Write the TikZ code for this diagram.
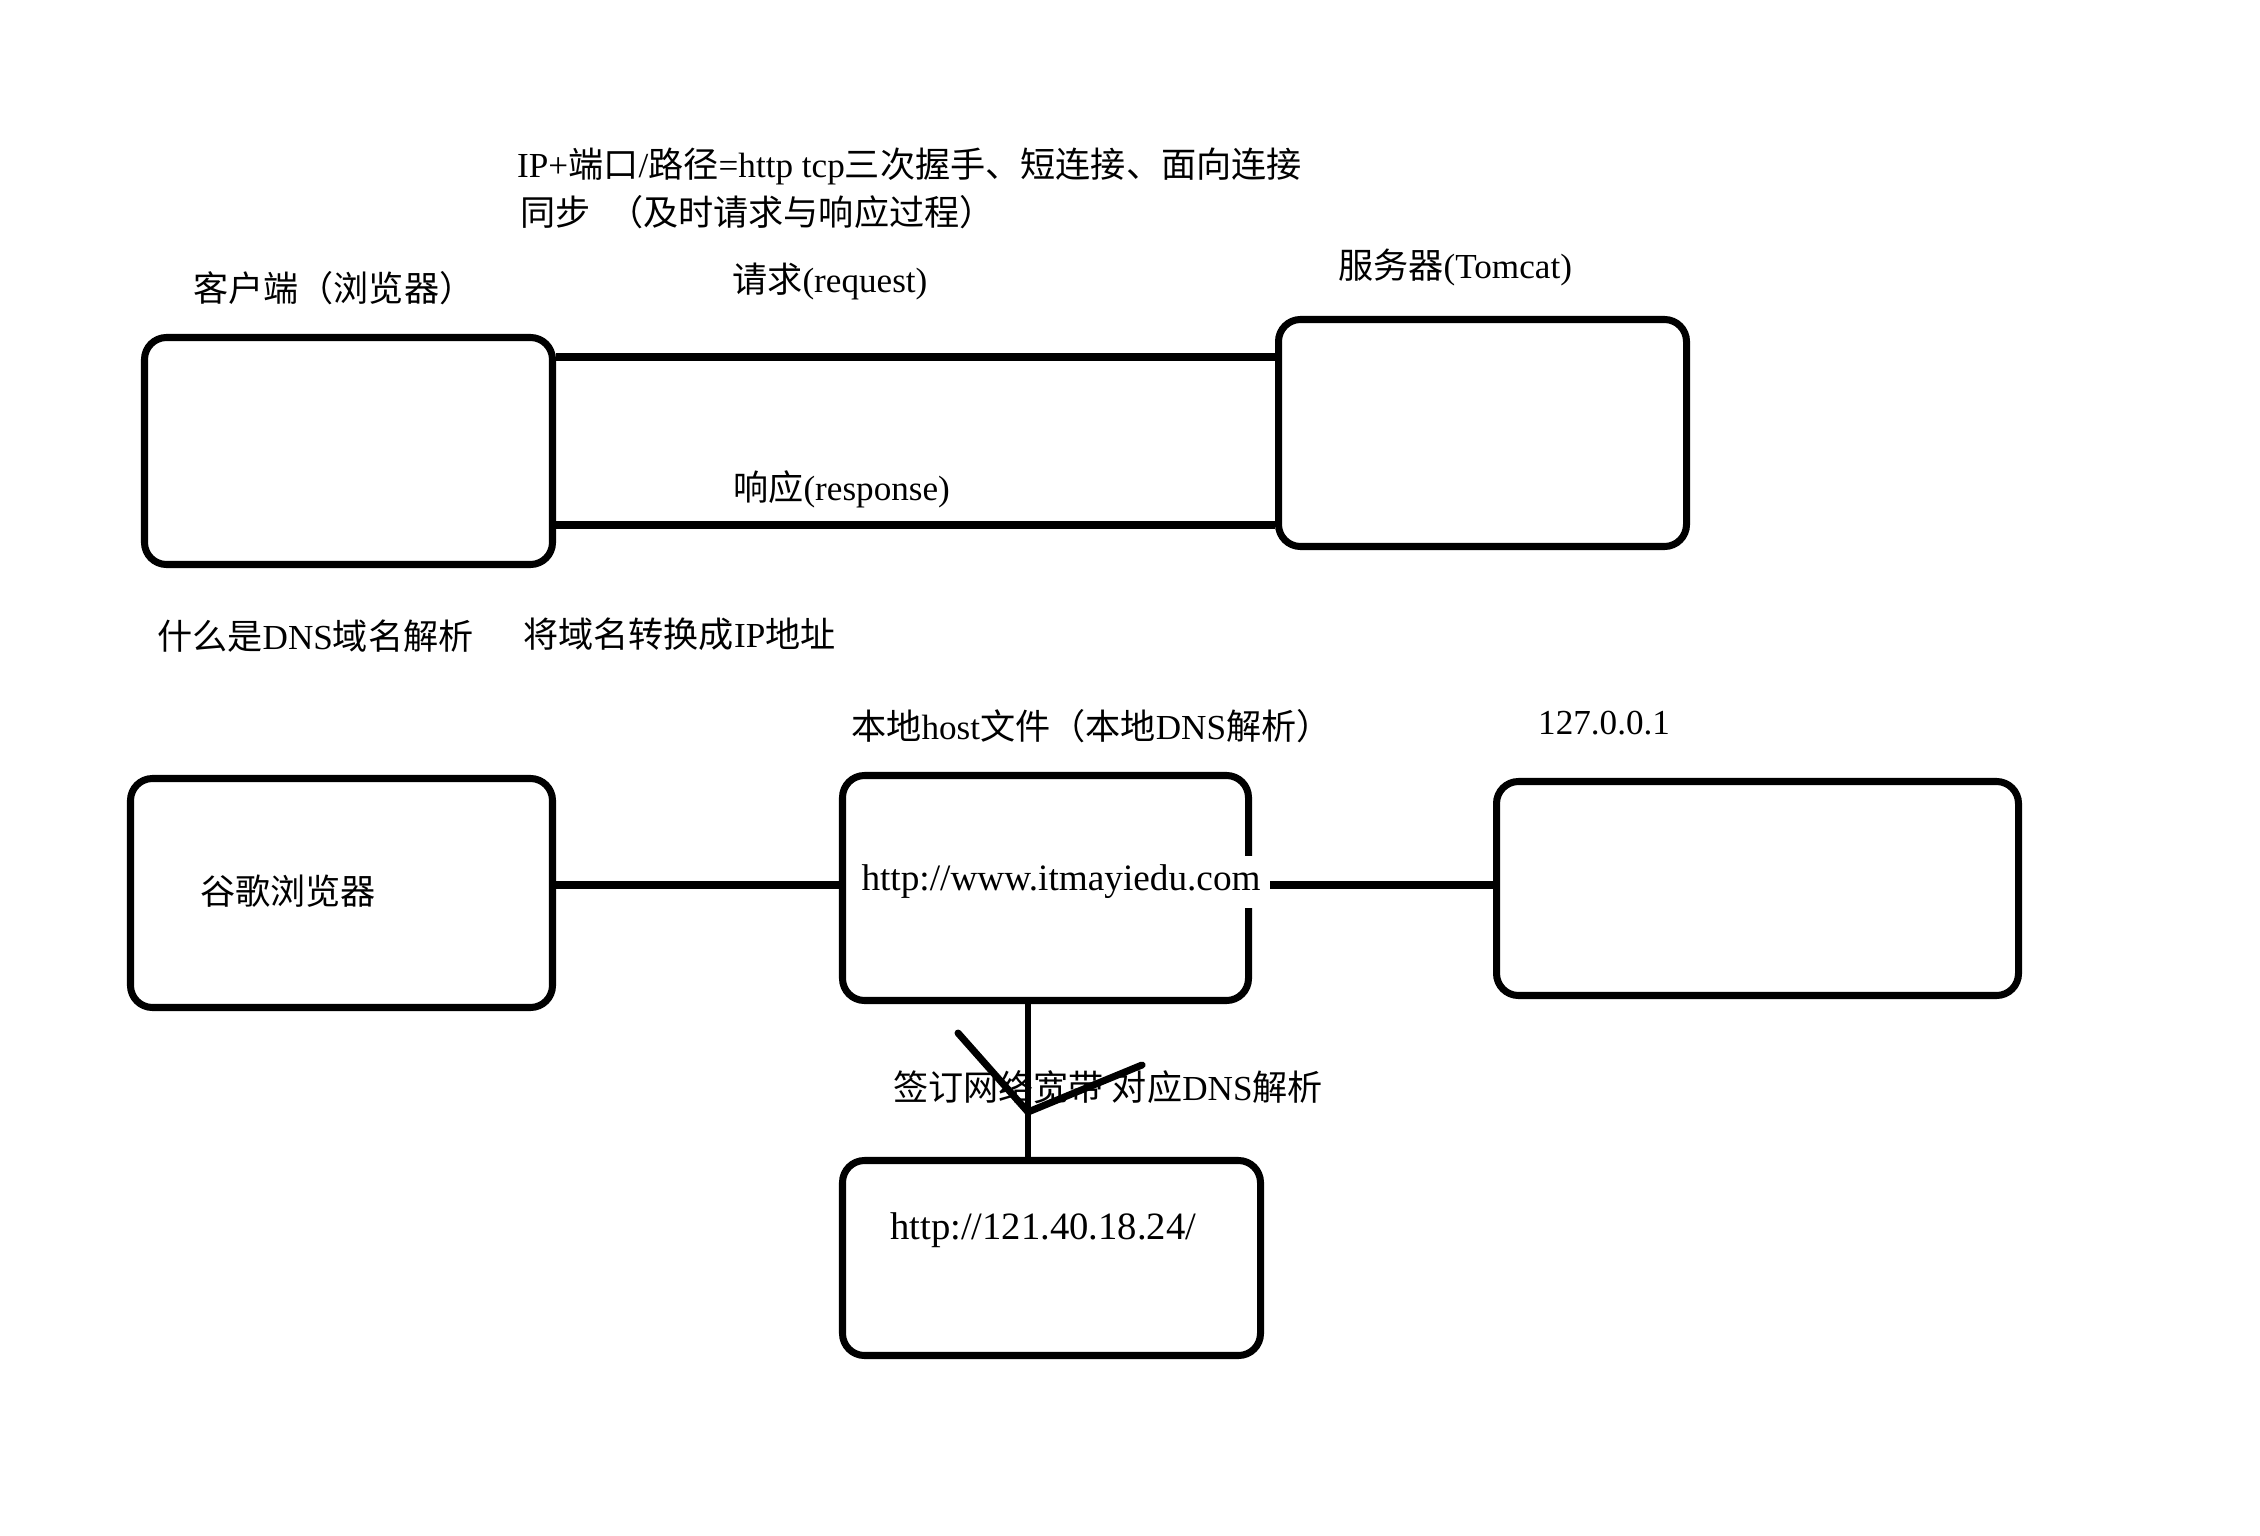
\documentclass[tikz,border=0pt]{standalone}
\usepackage{fontspec}
\setmainfont{Liberation Serif}
\newfontfamily\cjk{Noto Sans CJK SC}
\newcommand{\zhtext}[1]{{\cjk #1}}
\usetikzlibrary{positioning}

\tikzset{
  roundbox/.style={draw, line width=2pt, rounded corners=0.22cm},
  wire/.style={line width=2pt},
  thinwire/.style={line width=1.6pt},
  lbl/.style={anchor=west, inner sep=1pt, font=\fontsize{10}{12}\selectfont},
}

\begin{document}
\begin{tikzpicture}
    \useasboundingbox (0,0) rectangle (22.6,-15.36);

    % request / response
    \node[lbl] (note1) at (5.13,-1.66) {IP+\zhtext{端口}/\zhtext{路径}=http tcp\zhtext{三次握手、短连接、面向连接}};
    \node[lbl] (note2) at (5.16,-2.12) {\zhtext{同步}\hspace{0.5em}\zhtext{（及时请求与响应过程）}};

    \node[roundbox, minimum width=4.08cm, minimum height=2.27cm] (client) at (3.485,-4.51) {};
    \node[lbl] (clientlbl) at (1.89,-2.88) {\zhtext{客户端（浏览器）}};

    \node[roundbox, minimum width=4.08cm, minimum height=2.27cm] (server) at (14.825,-4.33) {};
    \node[lbl] (serverlbl) at (13.34,-2.67) {\zhtext{服务器}(Tomcat)};

    \node[lbl] (reqlbl) at (7.28,-2.81) {\zhtext{请求}(request)};
    \node[lbl] (resplbl) at (7.29,-4.89) {\zhtext{响应}(response)};

    \coordinate (req) at (0,-3.57);
    \coordinate (resp) at (0,-5.25);
    \draw[wire] (client.east |- req) -- (server.west |- req);
    \draw[wire] (client.east |- resp) -- (server.west |- resp);

    % dns
    \node[lbl] (dnslbl) at (1.53,-6.36) {\zhtext{什么是}DNS\zhtext{域名解析}};
    \node[lbl] (convlbl) at (5.19,-6.34) {\zhtext{将域名转换成}IP\zhtext{地址}};

    \node[roundbox, minimum width=4.22cm, minimum height=2.29cm] (google) at (3.415,-8.93) {};
    \node[lbl] (googlelbl) at (1.96,-8.91) {\zhtext{谷歌浏览器}};

    \node[roundbox, minimum width=4.06cm, minimum height=2.25cm] (host) at (10.455,-8.88) {};
    \node[lbl] (hostlbl) at (8.47,-7.26) {\zhtext{本地}host\zhtext{文件（本地}DNS\zhtext{解析）}};
    \node[lbl, fill=white, inner sep=2.5pt, font=\fontsize{10.6}{12}\selectfont] (url) at (8.52,-8.82) {http://www.itmayiedu.com};

    \node[roundbox, minimum width=5.22cm, minimum height=2.14cm] (local) at (17.575,-8.885) {};
    \node[lbl] (locallbl) at (15.34,-7.23) {127.0.0.1};

    \coordinate (link) at (0,-8.85);
    \draw[wire] (google.east |- link) -- (host.west |- link);
    \draw[wire] (url.east |- link) -- (local.west |- link);

    \node[roundbox, minimum width=4.18cm, minimum height=1.95cm] (remote) at (10.515,-12.58) {};
    \node[lbl, font=\fontsize{11}{13}\selectfont] (remotelbl) at (8.86,-12.30) {http://121.40.18.24/};
    \node[lbl] (isplbl) at (8.89,-10.87) {\zhtext{签订网络宽带 对应}DNS\zhtext{解析}};

    \coordinate (fork) at (10.28,-11.12);
    \coordinate (vleft) at (9.58,-10.33);
    \coordinate (vright) at (11.42,-10.65);
    \draw[thinwire] (host.south -| fork) -- (remote.north -| fork);
    \draw[wire, line cap=round] (vleft) -- (fork) -- (vright);
\end{tikzpicture}
\end{document}
